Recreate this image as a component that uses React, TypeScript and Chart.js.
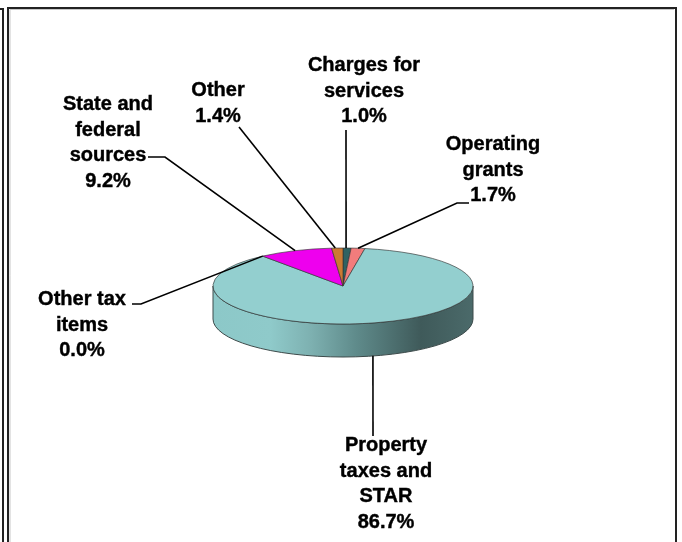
import React, { useEffect, useRef } from "react";
import { Chart, registerables } from "chart.js";

Chart.register(...registerables);

const categories = ["Charges for services", "Operating grants", "Property taxes and STAR", "Other tax items", "State and federal sources", "Other"];
const shares = [1.0, 1.7, 86.7, 0.0, 9.2, 1.4];
const sliceColors = ["#2F6262", "#F27C7C", "#93CFCF", "#93CFCF", "#EE00EE", "#CC7A33"];
const labelLines = [
  ["Charges for", "services", "1.0%"],
  ["Operating", "grants", "1.7%"],
  ["Property", "taxes and", "STAR", "86.7%"],
  ["Other tax", "items", "0.0%"],
  ["State and", "federal", "sources", "9.2%"],
  ["Other", "1.4%"],
];

// Layout only: label centre x, first baseline y, leader start and optional elbow.
const labelLayout = [
  { x: 364, y: 71, from: [346, 130], nudge: -1 },
  { x: 493, y: 150, from: [469, 203], elbow: [457, 203], nudge: 0 },
  { x: 386, y: 451, from: [373, 436], nudge: -2 },
  { x: 82, y: 305, from: [132, 304], elbow: [141, 304], nudge: 0 },
  { x: 108, y: 110, from: [148, 157], elbow: [165, 157], nudge: 0 },
  { x: 218, y: 96, from: [239, 127], nudge: -2 },
];

const SQUASH = 38 / 130;
const DEPTH = 33;
const LINE = 25.7;

const pie3d = {
  id: "pie3d",
  beforeDraw(chart: any) {
    const { ctx, width, height } = chart;
    ctx.save();
    ctx.fillStyle = "#fff";
    ctx.fillRect(0, 0, width, height);
    ctx.strokeStyle = "#c8c8c8";
    ctx.lineWidth = 1;
    ctx.beginPath();
    ctx.moveTo(10, height);
    ctx.lineTo(10, 9.5);
    ctx.lineTo(674, 9.5);
    ctx.stroke();
    ctx.strokeStyle = "#222";
    ctx.lineWidth = 2;
    ctx.strokeRect(8, 8, 668, 560);
    ctx.beginPath();
    ctx.moveTo(0, 9);
    ctx.lineTo(3, 9);
    ctx.lineTo(3, height);
    ctx.stroke();
    ctx.restore();
  },
  beforeDatasetsDraw(chart: any) {
    const { ctx } = chart;
    const arc = chart.getDatasetMeta(0).data[0];
    const { x: cx, y: cy, outerRadius: r } = arc;
    const ry = r * SQUASH;
    const g = ctx.createLinearGradient(cx - r, 0, cx + r, 0);
    g.addColorStop(0, "#8CC8C8");
    g.addColorStop(0.22, "#8FCACA");
    g.addColorStop(0.38, "#7DB0B0");
    g.addColorStop(0.55, "#5F8B8B");
    g.addColorStop(0.8, "#3F5A5A");
    g.addColorStop(1, "#4B6A6A");
    ctx.save();
    ctx.beginPath();
    ctx.moveTo(cx - r, cy);
    ctx.lineTo(cx - r, cy + DEPTH);
    ctx.ellipse(cx, cy + DEPTH, r, ry, 0, Math.PI, 0, true);
    ctx.lineTo(cx + r, cy);
    ctx.ellipse(cx, cy, r, ry, 0, 0, Math.PI, false);
    ctx.closePath();
    ctx.fillStyle = g;
    ctx.fill();
    ctx.strokeStyle = "#3c4a4a";
    ctx.lineWidth = 1;
    ctx.stroke();
    ctx.restore();
    ctx.save();
    ctx.translate(0, cy);
    ctx.scale(1, SQUASH);
    ctx.translate(0, -cy);
  },
  afterDatasetsDraw(chart: any) {
    const { ctx } = chart;
    ctx.restore();
    const arcs = chart.getDatasetMeta(0).data;
    ctx.save();
    ctx.font = "bold 20px 'Liberation Sans', Arial, sans-serif";
    ctx.textAlign = "center";
    ctx.textBaseline = "alphabetic";
    ctx.fillStyle = "#000";
    labelLines.forEach((lines, i) => {
      const a = arcs[i];
      const mid = (a.startAngle + a.endAngle) / 2;
      const px = a.x + a.outerRadius * Math.cos(mid) + labelLayout[i].nudge;
      const sinv = Math.sin(mid);
      const py = a.y + a.outerRadius * SQUASH * sinv + (sinv > 0 ? DEPTH : 0);
      const l = labelLayout[i];
      ctx.strokeStyle = "#000";
      ctx.lineWidth = 1.6;
      ctx.beginPath();
      ctx.moveTo(l.from[0], l.from[1]);
      if (l.elbow) ctx.lineTo(l.elbow[0], l.elbow[1]);
      ctx.lineTo(px, py);
      ctx.stroke();
      ctx.lineWidth = 0.4;
      lines.forEach((t, k) => {
        ctx.fillText(t, l.x, l.y + k * LINE);
        ctx.strokeText(t, l.x, l.y + k * LINE);
      });
    });
    ctx.restore();
  },
};

export default function App() {
  const ref = useRef<HTMLCanvasElement>(null);
  useEffect(() => {
    const chart = new Chart(ref.current as HTMLCanvasElement, {
      type: "pie",
      data: {
        labels: categories,
        datasets: [{ data: shares, backgroundColor: sliceColors, borderColor: "#333", borderWidth: 1 }],
      },
      options: {
        responsive: false,
        animation: false,
        layout: { padding: { left: 212.5, right: 208.5, top: 155.5, bottom: 125.5 } },
        plugins: { legend: { display: false }, tooltip: { enabled: false } },
      },
      plugins: [pie3d],
    } as any);
    return () => chart.destroy();
  }, []);
  return (
    <div style={{ position: "absolute", left: 0, top: 0 }}>
      <canvas ref={ref} width={682} height={542} style={{ display: "block" }} />
    </div>
  );
}
